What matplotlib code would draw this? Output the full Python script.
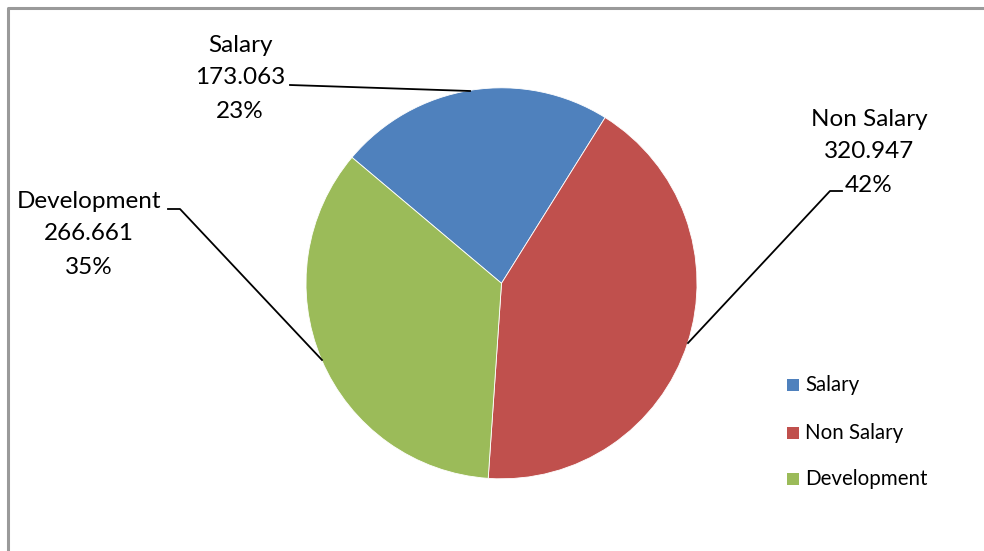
import matplotlib
matplotlib.use("Agg")
import matplotlib.pyplot as plt
from matplotlib.patches import Rectangle

categories = ["Salary", "Non Salary", "Development"]
values = [173.063, 320.947, 266.661]
value_labels = ["173.063", "320.947", "266.661"]
pct_labels = ["23%", "42%", "35%"]
colors = ["#4F81BD", "#C0504D", "#9BBB59"]

W, H = 984, 551
fig = plt.figure(figsize=(W / 100, H / 100), dpi=100)
ax = fig.add_axes([0, 0, 1, 1])
ax.set_xlim(0, W)
ax.set_ylim(0, H)
ax.set_aspect("equal")
ax.axis("off")

def Y(py):
    return H - py

# chart border (left and top visible)
ax.plot([7.5, 7.5, W], [0, Y(7.5), Y(7.5)], color="#9a9a9a", lw=2.2, solid_capstyle="butt")

cx, cy, r = 501.5, Y(283.3), 195.5
ax.pie(values, colors=colors, startangle=139.9, counterclock=False,
       center=(cx, cy), radius=r, frame=True,
       wedgeprops=dict(linewidth=0.6, edgecolor="white"))
ax.set_xlim(0, W)
ax.set_ylim(0, H)
ax.axis("off")

font = "Lato"
lab_fs = 17.5
label_pos = [(240, [45, 78, 111]), (869, [119, 152, 185]), (89, [201, 234, 268])]
for i, (x, ys) in enumerate(label_pos):
    for txt, y in zip([categories[i], value_labels[i], pct_labels[i]], ys):
        ax.text(x, Y(y), txt, ha="center", va="center", fontsize=lab_fs,
                family=font, color="black")

# leader lines
leaders = [
    [(290, 85), (470, 91)],
    [(842, 191), (830, 191), (688, 343)],
    [(168, 209), (180, 209), (322, 360)],
]
for pts in leaders:
    ax.plot([p[0] for p in pts], [Y(p[1]) for p in pts], color="black", lw=1.3)

# legend
leg_ys = [385, 433, 479]
for i, y in enumerate(leg_ys):
    ax.add_patch(Rectangle((787, Y(y) - 6), 12, 12, facecolor=colors[i], edgecolor="none"))
    ax.text(805, Y(y), categories[i], ha="left", va="center", fontsize=14.8,
            family=font, color="black")

fig.savefig("out.png", dpi=100)
